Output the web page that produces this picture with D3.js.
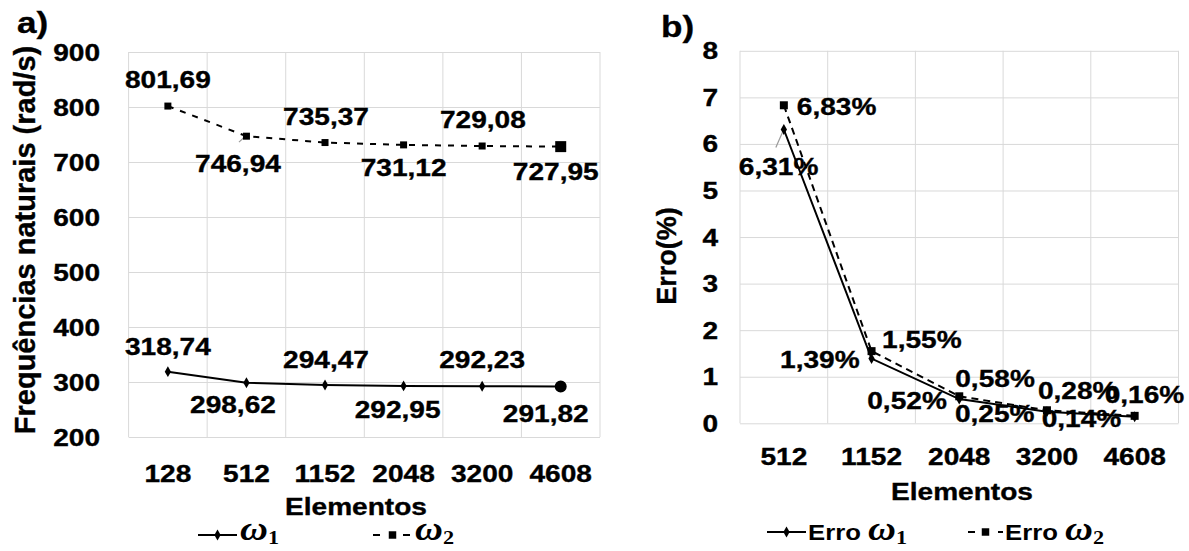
<!DOCTYPE html>
<html>
<head>
<meta charset="utf-8">
<script src="https://cdn.jsdelivr.net/npm/d3@7"></script>
<style>
  html, body { margin: 0; padding: 0; background: #fff; }
  svg { display: block; }
</style>
</head>
<body>
<svg id="fig" width="1189" height="551"></svg>
<script>
// ---- data: panel a) natural frequencies ----
const elementosA = ["128", "512", "1152", "2048", "3200", "4608"];
const omega1 = [318.74, 298.62, 294.47, 292.95, 292.23, 291.82];
const omega2 = [801.69, 746.94, 735.37, 731.12, 729.08, 727.95];
const freqTicks = [200, 300, 400, 500, 600, 700, 800, 900];

// ---- data: panel b) relative error ----
const elementosB = ["512", "1152", "2048", "3200", "4608"];
const erro1 = [6.31, 1.39, 0.52, 0.25, 0.14];
const erro2 = [6.83, 1.55, 0.58, 0.28, 0.16];
const erroTicks = [0, 1, 2, 3, 4, 5, 6, 7, 8];

// ---- presentation ----
const SX = 1.17;                       // horizontal text stretch
const SANS = "'Liberation Sans', Arial, Helvetica, sans-serif";
const SERIF = "'Liberation Serif', 'DejaVu Serif', serif";
const GRID = "#d9d9d9";

const fmt = v => v.toFixed(2).replace(".", ",");
const fmtPct = v => fmt(v) + "%";

// label offsets relative to each point (dx, dy to the baseline)
const placeA2 = [[0, -18], [-8.5, 36], [1, -17.5], [0, 31], [0.7, -18], [-5, 33]];
const placeA1 = [[0, -17], [-13.5, 30], [1, -17], [-6, 32], [0, -18], [-15, 35.5]];
const placeB2 = [[13, 10], [10.5, -3], [-4, -9], [-9, -11], [-30, -13]];
const placeB1 = [[-45, 46], [-91.5, 9.5], [-92, 10], [-92, 10], [-93, 10]];

const svg = d3.select("#fig");

function txt(g, x, y, s, o = {}) {
  return g.append("text")
    .attr("transform", `translate(${x},${y}) scale(${o.sx ?? SX},1)`)
    .attr("text-anchor", o.anchor || "middle")
    .attr("fill", "#000")
    .attr("stroke", "#000").attr("stroke-width", 0.35)
    .style("font-family", o.family || SANS)
    .style("font-weight", o.weight || "bold")
    .style("font-size", (o.size || 24) + "px")
    .text(s);
}

function omegaLabel(g, x, y, sub, prefix) {
  const t = g.append("text")
    .attr("transform", `translate(${x},${y}) scale(${SX},1)`)
    .attr("fill", "#000");
  if (prefix) {
    t.append("tspan").style("font-family", SANS).style("font-size", "22px")
      .style("font-weight", "bold").text(prefix);
  }
  t.append("tspan").style("font-family", SERIF).style("font-size", "33px")
    .style("font-weight", "bold").style("font-style", "italic").text("ω");
  t.append("tspan").attr("dy", 4).style("font-family", SERIF).style("font-size", "19px")
    .style("font-weight", "bold").text(sub);
}

function marker(g, type, size, x, y) {
  g.append("path")
    .attr("d", d3.symbol().type(type).size(size)())
    .attr("transform", `translate(${x},${y})`)
    .attr("fill", "#000");
}

function panel(cfg) {
  const g = svg.append("g");
  const [x0, x1] = cfg.xRange, [yb, yt] = cfg.yRange;
  const x = d3.scaleBand().domain(cfg.cats).range([x0, x1]).padding(0);
  const y = d3.scaleLinear().domain(cfg.yDomain).range([yb, yt]);
  const cx = d => x(d) + x.bandwidth() / 2;

  // horizontal gridlines
  const gy = g.append("g").attr("transform", `translate(${x0},0)`)
    .call(d3.axisLeft(y).tickValues(cfg.yTicks).tickSize(-(x1 - x0)).tickFormat(""));
  gy.select(".domain").remove();
  gy.selectAll(".tick line").attr("stroke", GRID).attr("stroke-width", 1);

  // vertical gridlines at band boundaries
  g.append("g").selectAll("line")
    .data(cfg.cats.map(d => x(d)).concat([x1]))
    .join("line")
    .attr("x1", d => d).attr("x2", d => d)
    .attr("y1", yt).attr("y2", yb)
    .attr("stroke", GRID).attr("stroke-width", 1);

  // y tick labels
  cfg.yTicks.forEach(v => txt(g, cfg.yLabelX, y(v) + 8.5, cfg.yFmt(v), { anchor: "end" }));
  // x tick labels
  cfg.cats.forEach(c => txt(g, cx(c), cfg.xLabelY, c));
  // axis titles
  txt(g, cfg.xTitleX, cfg.xTitleY, "Elementos");
  g.append("text")
    .attr("transform", `translate(${cfg.yTitle.x},${cfg.yTitle.y}) rotate(-90)`)
    .attr("text-anchor", "middle")
    .attr("stroke", "#000").attr("stroke-width", 0.35)
    .style("font-family", SANS).style("font-weight", "bold")
    .style("font-size", cfg.yTitle.size + "px")
    .text(cfg.yTitle.text);
  // panel tag
  txt(g, cfg.tag.x, cfg.tag.y, cfg.tag.text, { anchor: "start", size: 30 });

  const line = d3.line().x((d, i) => cx(cfg.cats[i])).y(d => y(d));

  // leader line
  if (cfg.leader) {
    const L = cfg.leader, px = cx(cfg.cats[L.i]), py = y(cfg[L.s][L.i]);
    g.append("line")
      .attr("x1", px + L.from[0]).attr("y1", py + L.from[1])
      .attr("x2", px + L.to[0]).attr("y2", py + L.to[1])
      .attr("stroke", "#9a9a9a").attr("stroke-width", 1.2);
  }

  // series 2 (dashed, squares)
  g.append("path").datum(cfg.s2).attr("d", line)
    .attr("fill", "none").attr("stroke", "#000").attr("stroke-width", 2)
    .attr("stroke-dasharray", cfg.dash);
  // series 1 (solid, diamonds)
  g.append("path").datum(cfg.s1).attr("d", line)
    .attr("fill", "none").attr("stroke", "#000").attr("stroke-width", 2);

  cfg.s2.forEach((v, i) => {
    const last = cfg.bigLast && i === cfg.s2.length - 1;
    marker(g, d3.symbolSquare, last ? 121 : cfg.sq, cx(cfg.cats[i]), y(v));
  });
  cfg.s1.forEach((v, i) => {
    const last = cfg.bigLast && i === cfg.s1.length - 1;
    if (last) marker(g, d3.symbolCircle, 113, cx(cfg.cats[i]), y(v));
    else marker(g, d3.symbolDiamond, 34, cx(cfg.cats[i]), y(v));
  });

  // data labels
  cfg.s2.forEach((v, i) => {
    const [dx, dy] = cfg.p2[i];
    txt(g, cx(cfg.cats[i]) + dx, y(v) + dy, cfg.lab(v), { anchor: cfg.anchor });
  });
  cfg.s1.forEach((v, i) => {
    const [dx, dy] = cfg.p1[i];
    txt(g, cx(cfg.cats[i]) + dx, y(v) + dy, cfg.lab(v), { anchor: cfg.anchor });
  });

  // legend
  const Lg = cfg.legend;
  g.append("line").attr("x1", Lg.l1[0]).attr("x2", Lg.l1[1])
    .attr("y1", Lg.ly).attr("y2", Lg.ly).attr("stroke", "#000").attr("stroke-width", 2);
  marker(g, d3.symbolDiamond, 34, (Lg.l1[0] + Lg.l1[1]) / 2, Lg.ly);
  omegaLabel(g, Lg.t1, Lg.ty, "1", Lg.prefix);
  g.append("line").attr("x1", Lg.l2[0]).attr("x2", Lg.l2[1])
    .attr("y1", Lg.ly).attr("y2", Lg.ly).attr("stroke", "#000").attr("stroke-width", 2)
    .attr("stroke-dasharray", "7,8");
  g.append("rect").attr("x", (Lg.l2[0] + Lg.l2[1]) / 2 - 5).attr("y", Lg.ly - 5)
    .attr("width", 10).attr("height", 10).attr("fill", "#fff");
  marker(g, d3.symbolSquare, 56, (Lg.l2[0] + Lg.l2[1]) / 2, Lg.ly);
  omegaLabel(g, Lg.t2, Lg.ty, "2", Lg.prefix);
}

// a) natural frequencies
panel({
  cats: elementosA, s1: omega1, s2: omega2,
  xRange: [128.6, 600], yRange: [437, 52], yDomain: [200, 900], yTicks: freqTicks,
  yFmt: v => String(v), yLabelX: 100, xLabelY: 482,
  xTitleX: 356, xTitleY: 515,
  yTitle: { x: 35, y: 240, size: 29, text: "Frequências naturais (rad/s)" },
  tag: { x: 17, y: 33, text: "a)" },
  dash: "6,7", sq: 49, bigLast: true,
  p1: placeA1, p2: placeA2, anchor: "middle", lab: fmt,
  leader: { s: "s2", i: 1, from: [-7.5, 6], to: [-0.5, -0.5] },
  legend: { l1: [198, 237], l2: [373, 412], ly: 535, t1: 240, t2: 415, ty: 540, prefix: "" }
});

// b) relative error
panel({
  cats: elementosB, s1: erro1, s2: erro2,
  xRange: [740, 1178.5], yRange: [423.3, 50.8], yDomain: [0, 8], yTicks: erroTicks,
  yFmt: v => String(v), yLabelX: 718, xLabelY: 465,
  xTitleX: 962, xTitleY: 500,
  yTitle: { x: 676, y: 256, size: 27, text: "Erro(%)" },
  tag: { x: 661, y: 37, text: "b)" },
  dash: "7,5", sq: 64, bigLast: false,
  p1: placeB1, p2: placeB2, anchor: "start", lab: fmtPct,
  leader: { s: "s1", i: 0, from: [-8, 18], to: [-1.5, 3] },
  legend: { l1: [767, 806], l2: [968, 1003], ly: 532, t1: 808, t2: 1005, ty: 540, prefix: "Erro " }
});
</script>
</body>
</html>
